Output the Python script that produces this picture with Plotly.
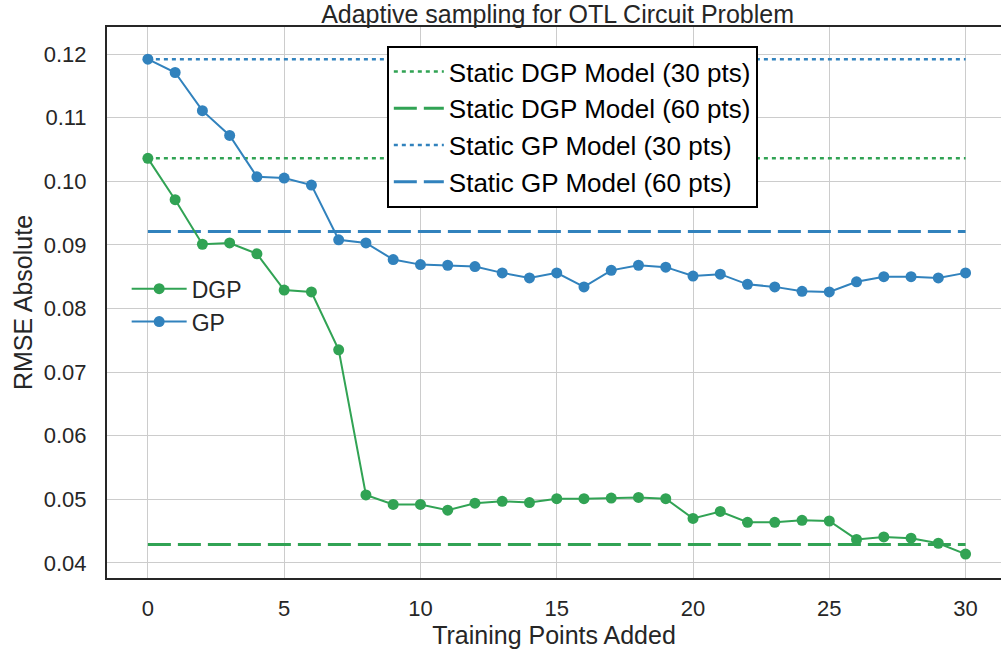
import plotly.graph_objects as go

# Adaptive sampling results: RMSE after each added training point
points_added = list(range(31))

dgp_rmse = [0.1036, 0.0971, 0.0901, 0.0903, 0.0886, 0.0829, 0.0826, 0.0735,
            0.0507, 0.0492, 0.0492, 0.0483, 0.0494, 0.0497, 0.0495, 0.0501,
            0.0501, 0.0502, 0.0503, 0.0501, 0.0470, 0.0481, 0.0464, 0.0464,
            0.0467, 0.0466, 0.0437, 0.0441, 0.0439, 0.0431, 0.0414]

gp_rmse = [0.1192, 0.1171, 0.1111, 0.1072, 0.1007, 0.1005, 0.0994, 0.0908,
           0.0903, 0.0877, 0.0869, 0.0868, 0.0866, 0.0856, 0.0848, 0.0856,
           0.0834, 0.0860, 0.0868, 0.0865, 0.0851, 0.0854, 0.0838, 0.0834,
           0.0827, 0.0826, 0.0842, 0.0850, 0.0850, 0.0848, 0.0856]

# Static (non-adaptive) model baselines
static_dgp_30 = 0.1036
static_dgp_60 = 0.0429
static_gp_30 = 0.1192
static_gp_60 = 0.0921

GREEN = "#31a354"
BLUE = "#3182bd"
FONT = "Liberation Sans, Arial, sans-serif"
DOT = "4px,4px"
DASH = "23px,7px"

x_span = [points_added[0], points_added[-1]]

fig = go.Figure()

baselines = [
    ("Static DGP Model (30 pts)", static_dgp_30, GREEN, DOT, 2.5),
    ("Static DGP Model (60 pts)", static_dgp_60, GREEN, DASH, 3),
    ("Static GP Model (30 pts)", static_gp_30, BLUE, DOT, 2.5),
    ("Static GP Model (60 pts)", static_gp_60, BLUE, DASH, 3),
]
for name, val, color, dash, width in baselines:
    fig.add_trace(go.Scatter(
        x=x_span, y=[val, val], mode="lines", name=name,
        line=dict(color=color, dash=dash, width=width),
        legend="legend",
    ))

for name, vals, color in [("DGP", dgp_rmse, GREEN), ("GP", gp_rmse, BLUE)]:
    fig.add_trace(go.Scatter(
        x=points_added, y=vals, mode="lines+markers", name=name,
        line=dict(color=color, width=2),
        marker=dict(color=color, size=11),
        legend="legend2",
    ))

axis_common = dict(
    showgrid=True, gridcolor="#cccccc", gridwidth=1.3,
    zeroline=False, showline=True, linecolor="#262626", linewidth=2,
    ticks="outside", tickcolor="rgba(0,0,0,0)",
    tickfont=dict(family=FONT, size=22, color="#262626"),
)

fig.update_layout(
    width=1002, height=651,
    margin=dict(l=107, r=1, t=27, b=73),
    paper_bgcolor="white", plot_bgcolor="white",
    font=dict(family=FONT, color="#262626"),
    title=dict(
        text="Adaptive sampling for OTL Circuit Problem",
        x=0.504, xref="paper", xanchor="center",
        y=1 - 14 / 651, yref="container", yanchor="middle",
        font=dict(family=FONT, size=25, color="#262626"),
    ),
    xaxis=dict(
        range=[-1.5, 31.3], tickmode="array",
        tickvals=[0, 5, 10, 15, 20, 25, 30], ticklen=10,
        mirror=True,
        title=dict(text="Training Points Added", standoff=1,
                   font=dict(family=FONT, size=25, color="#262626")),
        **axis_common,
    ),
    yaxis=dict(
        range=[0.03764, 0.12425], tickmode="array",
        tickvals=[0.04, 0.05, 0.06, 0.07, 0.08, 0.09, 0.10, 0.11, 0.12],
        ticktext=["0.04", "0.05", "0.06", "0.07", "0.08", "0.09", "0.10", "0.11", "0.12"],
        ticklen=14, mirror=False,
        title=dict(text="RMSE Absolute", standoff=4,
                   font=dict(family=FONT, size=25, color="#262626")),
        **axis_common,
    ),
    legend=dict(
        x=0.313, y=0.9655, xanchor="left", yanchor="top",
        bgcolor="white", bordercolor="black", borderwidth=2,
        font=dict(family=FONT, size=26, color="black"),
        tracegroupgap=0, itemwidth=50,
    ),
    legend2=dict(
        x=0.022, y=0.495, xanchor="left", yanchor="middle",
        bgcolor="rgba(0,0,0,0)", borderwidth=0,
        font=dict(family=FONT, size=23, color="#262626"),
        itemwidth=55,
    ),
)

fig.write_html("out.html")
